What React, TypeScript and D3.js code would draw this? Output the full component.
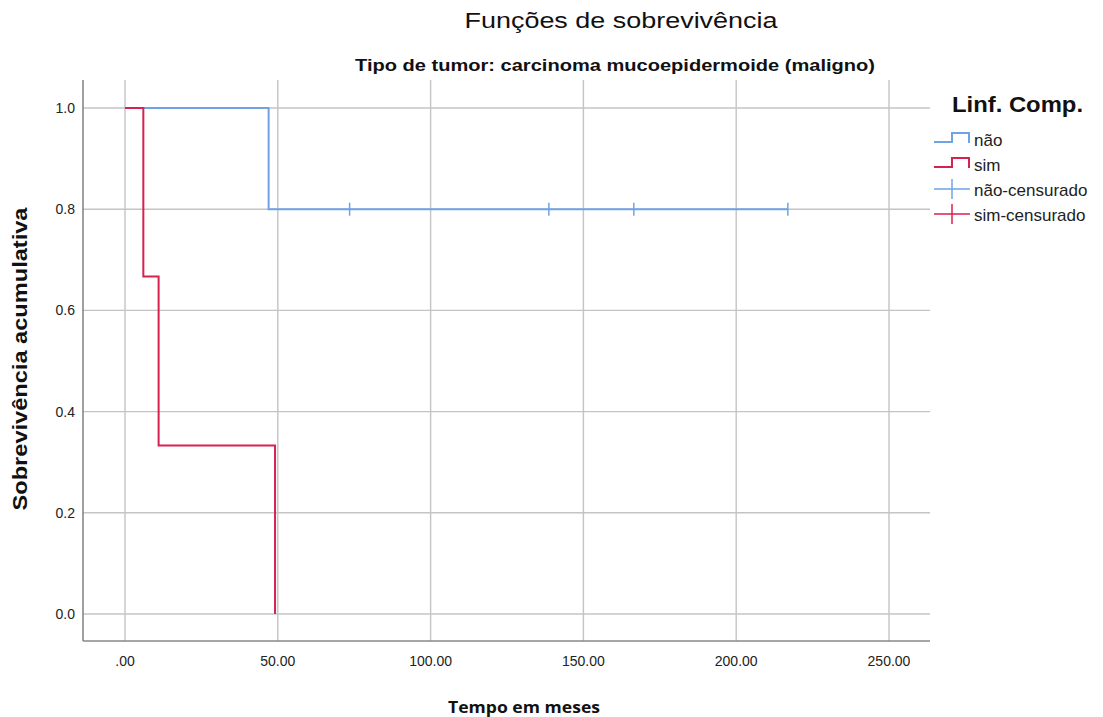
import React from "react";
import * as d3 from "d3";

const xTicks = [0, 50, 100, 150, 200, 250];
const yTicks = [0, 0.2, 0.4, 0.6, 0.8, 1.0];
const naoTimes = [0, 47, 217];
const naoSurv = [1.0, 0.8, 0.8];
const naoCensored = [73.5, 138.7, 166.5, 216.9];
const simTimes = [0, 6, 11, 49.1];
const simSurv = [1.0, 0.667, 0.333, 0.0];
const legendLabels = ["não", "sim", "não-censurado", "sim-censurado"];

const BLUE = "#6fa3e6";
const RED = "#d7214f";

export default function App() {
  const W = 1103, H = 717;
  const left = 83, right = 930, top = 80, bottom = 641;
  const x = d3.scaleLinear().domain([0, 250]).range([125, 889]);
  const y = d3.scaleLinear().domain([0, 1]).range([614, 108]);
  const step = d3.line<[number, number]>().x(d => x(d[0])).y(d => y(d[1])).curve(d3.curveStepAfter);
  const naoPts: [number, number][] = naoTimes.map((t, i) => [t, naoSurv[i]]);
  const simPts: [number, number][] = simTimes.map((t, i) => [t, simSurv[i]]);
  const grid = "#c4c4c4";
  const sans = "'Liberation Sans', Arial, sans-serif";
  return (
    <svg width={W} height={H} style={{ position: "absolute", left: 0, top: 0, background: "#fff" }}>
      {xTicks.map(t => (
        <line key={"gx" + t} x1={x(t)} x2={x(t)} y1={top} y2={bottom} stroke={grid} strokeWidth={1.4} />
      ))}
      {yTicks.map(t => (
        <line key={"gy" + t} x1={left} x2={right} y1={y(t)} y2={y(t)} stroke={grid} strokeWidth={1.4} />
      ))}
      <line x1={left} x2={left} y1={top} y2={bottom} stroke="#888" strokeWidth={1.6} />
      <line x1={left} x2={right} y1={bottom} y2={bottom} stroke="#888" strokeWidth={1.6} />
      {xTicks.map(t => (
        <text key={"tx" + t} x={x(t)} y={666} textAnchor="middle" fontFamily={sans} fontSize={14} fill="#222">
          {t === 0 ? ".00" : t.toFixed(2)}
        </text>
      ))}
      {yTicks.map(t => (
        <text key={"ty" + t} x={75} y={y(t) + 5} textAnchor="end" fontFamily={sans} fontSize={14} fill="#222">
          {t.toFixed(1)}
        </text>
      ))}
      <path d={step(naoPts) || ""} fill="none" stroke={BLUE} strokeWidth={2} />
      <path d={step(simPts) || ""} fill="none" stroke={RED} strokeWidth={2} />
      {naoCensored.map((t, i) => (
        <line key={"c" + i} x1={x(t)} x2={x(t)} y1={y(0.8) - 6.5} y2={y(0.8) + 6.5} stroke={BLUE} strokeWidth={1.5} />
      ))}
      <text x={621} y={28} textAnchor="middle" fontFamily={sans} fontSize={22} fill="#111" textLength={313} lengthAdjust="spacingAndGlyphs">
        Funções de sobrevivência
      </text>
      <text x={615} y={71} textAnchor="middle" fontFamily={sans} fontWeight="bold" fontSize={16.5} fill="#111" textLength={520} lengthAdjust="spacingAndGlyphs">
        Tipo de tumor: carcinoma mucoepidermoide (maligno)
      </text>
      <text transform={`translate(27, 359) rotate(-90)`} textAnchor="middle" fontFamily={sans} fontWeight="bold" fontSize={20} fill="#111" textLength={303} lengthAdjust="spacingAndGlyphs">
        Sobrevivência acumulativa
      </text>
      <text x={524} y={713} textAnchor="middle" fontFamily="'Open Sans', sans-serif" fontWeight="bold" fontSize={16} fill="#111" textLength={152} lengthAdjust="spacingAndGlyphs">
        Tempo em meses
      </text>
      <text x={952} y={112} fontFamily={sans} fontWeight="bold" fontSize={22} fill="#111" textLength={131} lengthAdjust="spacingAndGlyphs">
        Linf. Comp.
      </text>
      {legendLabels.map((lab, i) => {
        const cy = 139 + i * 25;
        const col = i % 2 === 0 ? BLUE : RED;
        return (
          <g key={lab}>
            {i < 2 ? (
              <path d={`M934,${cy + 3}H952V${cy - 6}H969V${cy + 4}`} fill="none" stroke={col} strokeWidth={2} />
            ) : (
              <g>
                <line x1={934} x2={970} y1={cy} y2={cy} stroke={col} strokeWidth={1.5} />
                <line x1={952} x2={952} y1={cy - 10} y2={cy + 10} stroke={col} strokeWidth={1.5} />
              </g>
            )}
            <text x={974} y={cy + 7} fontFamily={sans} fontSize={17} fill="#222">
              {lab}
            </text>
          </g>
        );
      })}
    </svg>
  );
}
